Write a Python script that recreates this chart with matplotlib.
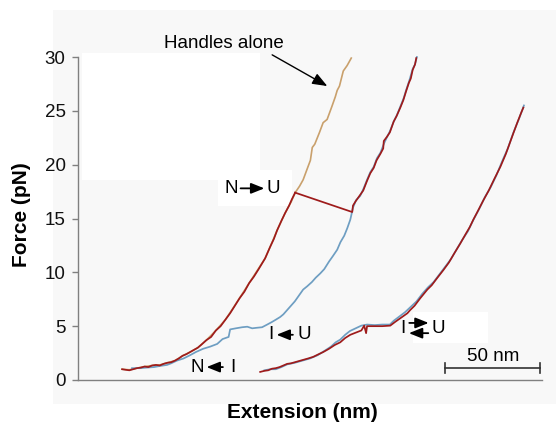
import matplotlib
matplotlib.use("Agg")
import matplotlib.pyplot as plt
from matplotlib.patches import Rectangle

plt.rcParams['font.family'] = ['Liberation Sans', 'DejaVu Sans']

# ---------------- data (extension in nm, force in pN) ----------------
# handles alone (tan), continues above the N->U rip
handles_x = [23.2, 27, 31, 35, 39, 43, 47, 51, 55, 59, 63, 67.5, 72.5, 77.5, 82, 86, 90, 94, 98.4,
             101, 104.7, 108.9, 112, 114.2, 116.5, 118.4, 120.5, 122.2, 123.2, 124.5, 127, 128.9, 131,
             133.5, 135.3, 136.3, 137.5, 139.5, 141.5, 143.7]
handles_f = [1.0, 0.95, 1.1, 1.25, 1.35, 1.4, 1.6, 1.8, 2.25, 2.6, 3.0, 3.7, 4.6, 5.6, 6.8, 7.9, 9.0, 10.1, 11.3,
             12.35, 13.9, 15.5, 16.5, 17.4, 18.0, 18.6, 19.6, 20.4, 21.6, 21.9, 23.0, 23.9, 24.2,
             25.4, 26.3, 26.9, 27.3, 28.7, 29.2, 29.9]

# first pull: folded state stretch (red)
pull1_x = [23.2, 25, 27, 29, 31, 33, 35, 37, 39, 41, 43, 45, 47, 49, 51, 53, 55, 57, 59, 61, 63, 65,
           67.5, 70, 72.5, 75, 77.5, 80, 82.5, 85, 87.5, 90, 92.5, 95, 98.4, 101, 103, 104.7, 107,
           108.9, 111, 112.5, 114.2]
pull1_f = [1.0, 0.95, 0.9, 1.0, 1.1, 1.15, 1.25, 1.2, 1.35, 1.4, 1.35, 1.5, 1.6, 1.65, 1.8, 2.0, 2.25,
           2.4, 2.6, 2.8, 3.0, 3.3, 3.7, 4.0, 4.6, 5.0, 5.6, 6.2, 6.9, 7.6, 8.2, 9.0, 9.6, 10.3, 11.3,
           12.35, 13.1, 13.9, 14.8, 15.5, 16.2, 16.8, 17.4]

# rip N -> U and stretch of unfolded state (red)
pull1u_x = [114.2, 144.2, 144.6, 146, 148, 150, 152, 153.7, 155.5, 157, 159, 160.5, 160.8, 162.5, 164,
            166, 167.5, 169.5, 171.1, 172.5, 174, 175, 176, 177.2, 177.9]
pull1u_f = [17.4, 15.6, 16.2, 16.6, 17.1, 17.6, 18.5, 19.2, 19.7, 20.4, 21.0, 21.5, 22.2, 22.6, 23.0,
            24.0, 24.5, 25.3, 26.0, 26.8, 27.6, 28.0, 28.8, 29.3, 29.9]

# first relaxation U -> I -> N (blue)
relax1_x = [178.2, 177.2, 176, 174.2, 172.5, 171.3, 169.5, 167.7, 166, 164, 162.6, 161, 159, 157.2,
            155.5, 153.7, 152, 150.2, 148.4, 146.2, 144.6, 143.2, 141.6, 140, 138, 136.3, 134, 132,
            129.5, 127.4, 125, 123, 120.5, 118.4, 116, 114, 112, 110, 108, 106.3, 104, 102.1, 99.5,
            96.8, 94, 91.6, 89, 86.3, 83, 80, 79.2, 76, 73.2, 69.5, 65.8, 62, 58.9, 55.5, 52, 49,
            46.8, 43, 40, 36, 33, 30.5, 28.4]
relax1_f = [30.0, 29.3, 28.9, 27.8, 26.9, 26.2, 25.4, 24.6, 24.0, 23.1, 22.6, 22.0, 21.1, 20.6,
            19.8, 19.3, 18.6, 17.8, 17.1, 16.7, 16.0, 14.9, 14.1, 13.4, 12.8, 12.1, 11.5, 11.0,
            10.3, 9.9, 9.5, 9.1, 8.7, 8.4, 7.8, 7.3, 6.9, 6.5, 6.1, 5.85, 5.6, 5.4, 5.15,
            4.9, 4.85, 4.8, 4.95, 4.9, 4.8, 4.7, 4.0, 3.8, 3.35, 3.1, 2.9, 2.6, 2.3, 2.0, 1.8, 1.55,
            1.4, 1.3, 1.2, 1.15, 1.1, 1.1, 1.1]

# second cycle (I <-> U hopping), red = stretching, blue = relaxing
pull2_x = [95.8, 98, 100, 102, 104, 106, 108, 110, 112, 115, 118, 121, 123.7, 126, 129, 132, 135,
           137.9, 140.5, 143.2, 146.8, 149, 150.5, 151.5, 152, 156, 160, 164.2, 166.8, 170, 173.2,
           174.7, 177, 180, 183.7, 186, 189, 192.1, 195, 198, 201.1, 204, 206, 207.9, 210, 213.2,
           216, 219, 222.1, 225, 228.9, 231, 233, 234.2]
pull2_f = [0.75, 0.85, 0.9, 1.05, 1.1, 1.2, 1.35, 1.5, 1.55, 1.7, 1.85, 2.0, 2.15, 2.35, 2.6, 2.9,
           3.25, 3.5, 3.9, 4.2, 4.45, 4.6, 5.05, 4.35, 5.0, 5.0, 5.0, 5.05, 5.4, 5.8, 6.2,
           6.5, 6.9, 7.6, 8.4, 8.8, 9.5, 10.2, 10.9, 11.8, 12.7, 13.6, 14.2, 14.9, 15.6, 16.7,
           17.6, 18.7, 19.8, 21.0, 22.9, 23.9, 24.8, 25.3]

relax2_x = [234.5, 232, 229, 226, 223, 220, 217, 214, 211, 208, 205, 202, 199, 196, 193, 190, 187,
            184, 181, 178, 175, 172, 169, 166, 164, 160, 156, 152, 149, 146, 143, 140.5, 137.9,
            135.5, 133, 130, 126, 122, 118, 114, 110, 107, 104, 101, 98]
relax2_f = [25.5, 24.3, 23.0, 21.5, 20.3, 19.0, 17.9, 17.0, 15.9, 14.9, 13.8, 13.0, 12.1, 11.2,
            10.5, 9.8, 9.1, 8.6, 8.0, 7.3, 6.8, 6.3, 5.9, 5.5, 5.15, 5.15, 5.1, 5.15, 5.05, 4.8,
            4.55, 4.2, 3.75, 3.5, 3.1, 2.75, 2.3, 2.0, 1.8, 1.6, 1.45, 1.2, 1.0, 1.0, 0.9]

y_ticks = [0, 5, 10, 15, 20, 25, 30]
scale_bar_nm = 50

RED = '#9e1b1b'
BLUE = '#6e9ec2'
TAN = '#c9a06c'

# ---------------- figure ----------------
W, H = 556, 425
fig = plt.figure(figsize=(W / 100, H / 100), dpi=100)
fig.patch.set_facecolor('white')

def px_rect(x0, y0, x1, y1, color):
    fig.patches.append(Rectangle((x0 / W, 1 - y1 / H), (x1 - x0) / W, (y1 - y0) / H,
                                 transform=fig.transFigure, facecolor=color,
                                 edgecolor='none', zorder=-10))

px_rect(53, 10, 556, 404, '#f8f8f8')
px_rect(82, 53, 260, 180, 'white')
px_rect(218, 170, 292, 206, 'white')
px_rect(413, 312, 488, 343, 'white')

ax = fig.add_axes([78 / W, 1 - 380 / H, (542 - 78) / W, (380 - 57) / H])
ax.set_facecolor('none')
ax.set_xlim(0, 244)
ax.set_ylim(0, 30)

LW = 1.25
ax.plot(handles_x, handles_f, color=TAN, lw=1.2, clip_on=False, zorder=2)
ax.plot(relax1_x, relax1_f, color=BLUE, lw=LW, clip_on=False, zorder=3)
ax.plot(pull1_x, pull1_f, color=RED, lw=LW, clip_on=False, zorder=4)
ax.plot(pull1u_x, pull1u_f, color=RED, lw=LW, clip_on=False, zorder=4)
ax.plot(relax2_x, relax2_f, color=BLUE, lw=LW, clip_on=False, zorder=3)
ax.plot(pull2_x, pull2_f, color=RED, lw=LW, clip_on=False, zorder=4)

for s in ['top', 'right']:
    ax.spines[s].set_visible(False)
for s in ['left', 'bottom']:
    ax.spines[s].set_color('#808080')
    ax.spines[s].set_linewidth(1.0)
ax.set_xticks([])
ax.set_yticks(y_ticks)
ax.tick_params(axis='y', direction='out', length=4, width=1.0, color='#808080',
               labelsize=13.5, pad=5, labelcolor='#111111')

fig.text(22 / W, 1 - 215 / H, 'Force (pN)', rotation=90, ha='center', va='center',
         fontsize=15, fontweight='bold')
fig.text(302 / W, 1 - 413 / H, 'Extension (nm)', ha='center', va='center',
         fontsize=15, fontweight='bold')

# annotations
fs = 13.5
HEAD = '-|>,head_length=0.8,head_width=0.32'
ax.annotate('', xy=(131.1, 27.3), xytext=(102.1, 30.2), annotation_clip=False,
            arrowprops=dict(arrowstyle='-|>,head_length=0.9,head_width=0.35', color='black',
                            lw=1.0, shrinkA=0, shrinkB=0))
ax.text(76.8, 31.3, 'Handles alone', ha='center', va='center', fontsize=fs, clip_on=False)

def label_arrow(xl, tl, xr, tr, y, a0, a1):
    ax.text(xl, y, tl, ha='center', va='center', fontsize=fs)
    ax.text(xr, y, tr, ha='center', va='center', fontsize=fs)
    ax.annotate('', xy=(a1, y), xytext=(a0, y),
                arrowprops=dict(arrowstyle=HEAD, color='black',
                                lw=1.3, shrinkA=0, shrinkB=0))

label_arrow(80.8, 'N', 102.5, 'U', 17.8, 85.5, 98.0)
label_arrow(101.2, 'I', 118.8, 'U', 4.2, 113.0, 104.4)
label_arrow(62.6, 'N', 81.6, 'I', 1.2, 76.2, 67.6)

# I <-> U
ax.text(170.8, 4.8, 'I', ha='center', va='center', fontsize=fs)
ax.text(189.6, 4.8, 'U', ha='center', va='center', fontsize=fs)
ax.annotate('', xy=(184.4, 5.3), xytext=(174.2, 5.3),
            arrowprops=dict(arrowstyle=HEAD, color='black', lw=1.3, shrinkA=0, shrinkB=0))
ax.annotate('', xy=(174.0, 4.35), xytext=(184.2, 4.35),
            arrowprops=dict(arrowstyle=HEAD, color='black', lw=1.3, shrinkA=0, shrinkB=0))

# scale bar
sb_x0 = 193.2
sb_y = 1.1
ax.plot([sb_x0, sb_x0 + scale_bar_nm], [sb_y, sb_y], color='#333333', lw=1.2)
ax.plot([sb_x0, sb_x0], [sb_y - 0.45, sb_y + 0.45], color='#333333', lw=1.2)
ax.plot([sb_x0 + scale_bar_nm, sb_x0 + scale_bar_nm], [sb_y - 0.45, sb_y + 0.45],
        color='#333333', lw=1.2, clip_on=False)
ax.text(sb_x0 + scale_bar_nm / 2, 2.15, f'{scale_bar_nm} nm', ha='center', va='center', fontsize=fs)

fig.savefig('out.png', dpi=100)
